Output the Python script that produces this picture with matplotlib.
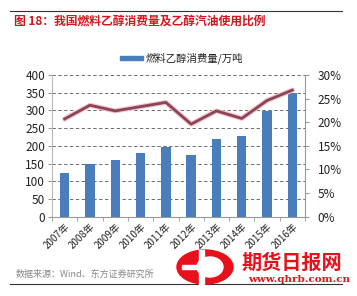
import matplotlib
matplotlib.use("Agg")
import matplotlib.pyplot as plt
import numpy as np
from matplotlib.lines import Line2D
from matplotlib.patches import Ellipse, Rectangle

plt.rcParams['font.family'] = ['Noto Sans CJK SC', 'DejaVu Sans']

years = ["2007年", "2008年", "2009年", "2010年", "2011年", "2012年", "2013年", "2014年", "2015年", "2016年"]
consumption = [122, 150, 160, 180, 197, 174, 219, 229, 299, 348]
ratio = [20.7, 23.6, 22.4, 23.3, 24.2, 19.6, 22.4, 20.8, 24.6, 26.8]
left_ticks = [0, 50, 100, 150, 200, 250, 300, 350, 400]
right_ticks = [0, 5, 10, 15, 20, 25, 30]

W, H = 357, 296
fig = plt.figure(figsize=(W/100, H/100), dpi=100)
ax = fig.add_axes([52/W, 1-216.7/H, 253/W, 141.7/H])
x = np.arange(len(years))
ax.bar(x, consumption, width=0.37, color="#4A7EBB", zorder=3, label="燃料乙醇消费量/万吨")
ax.set_xlim(-0.5, len(years)-0.5)
ax.set_ylim(0, 400)
ax.set_yticks(left_ticks)
ax.set_yticklabels([str(t) for t in left_ticks], fontsize=8.5, color="#222222")
ax.set_xticks(x)
ax.set_xticklabels(years, rotation=45, ha="right", rotation_mode="anchor", fontsize=7, color="#222222")
ax.tick_params(axis="x", length=0, pad=3)
ax.set_xticks(np.arange(-0.5, len(years), 1), minor=True)
ax.tick_params(axis="x", which="minor", length=3, color="#999999")
ax.tick_params(axis="y", length=3, color="#999999", pad=2)
ax.grid(axis="y", linestyle=(0, (4, 3)), color="#555555", linewidth=0.6, zorder=0)
ax.spines["top"].set_visible(False)
ax.spines["left"].set_color("#BBBBBB")
ax.spines["bottom"].set_color("#999999")
ax.spines["right"].set_visible(False)

ax2 = ax.twinx()
ax2.set_ylim(0, 30)
ax2.set_yticks(right_ticks)
ax2.set_yticklabels([f"{t}%" for t in right_ticks], fontsize=8.5, color="#222222")
ax2.tick_params(axis="y", length=3, color="#999999", pad=6)
ax2.plot(x, ratio, color="#F2C4CC", linewidth=3.6, zorder=4, solid_capstyle="round")
ax2.plot(x, ratio, color="#8C4458", linewidth=2.0, zorder=5)
for s in ["top", "left", "bottom"]:
    ax2.spines[s].set_visible(False)
ax2.spines["right"].set_color("#999999")

# legend
fig.patches.append(Rectangle((120/W, 1-60/H), 23/W, 4/H, transform=fig.transFigure, color="#4A7EBB"))
fig.text(146/W, 1-58/H, "燃料乙醇消费量/万吨", fontsize=7.5, va="center", ha="left", color="#222222")

# title and rules
fig.add_artist(Line2D([10/W, 342/W], [1-11/H, 1-11/H], color="#333333", linewidth=0.8))
fig.text(14/W, 1-21/H, "图 18：我国燃料乙醇消费量及乙醇汽油使用比例", fontsize=8.5, fontweight="bold",
         color="#D01820", va="center", ha="left")
fig.text(16/W, 1-274/H, "数据来源：Wind、东方证券研究所", fontsize=6.5, color="#888888", va="center", ha="left")
fig.add_artist(Line2D([10/W, 342/W], [1-284/H, 1-284/H], color="#333333", linewidth=0.8))

# watermark
fig.patches.append(Ellipse((205/W, 1-267/H), 56/W, 34/H, transform=fig.transFigure, color="#E8101A", zorder=10))
fig.patches.append(Ellipse((210/W, 1-267/H), 26/W, 20/H, transform=fig.transFigure, color="white", zorder=11))
fig.patches.append(Rectangle((199/W, 1-284/H), 5/W, 34/H, transform=fig.transFigure, color="white", zorder=12))
fig.patches.append(Rectangle((182/W, 1-269/H), 20/W, 4/H, transform=fig.transFigure, color="white", zorder=12))
fig.text(242/W, 1-262/H, "期货日报网", fontsize=14.5, fontweight="bold", color="#E8101A", va="center", ha="left",
         zorder=13)
fig.text(248/W, 1-279/H, "www.qhrb.com.cn", fontsize=7.5, fontweight="bold", color="#E8101A", va="center", ha="left",
         family="DejaVu Serif", zorder=13)

fig.savefig("out.png", dpi=100)
